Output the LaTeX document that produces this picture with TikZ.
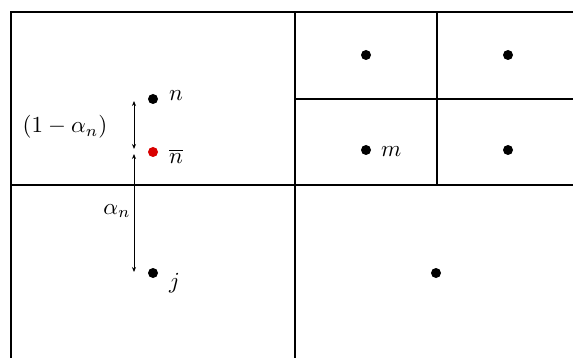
\documentclass[tikz,border=0pt]{standalone}
\usepackage{graphicx}
\usetikzlibrary{arrows.meta}
\newcommand{\biglab}[1]{\scalebox{2.3}{#1}}
\begin{document}
\begin{tikzpicture}[x=1pt,y=-1pt,
  frame/.style={line width=2pt},
  dot/.style={circle,fill=black,inner sep=0pt,minimum size=10pt},
  reddot/.style={circle,fill=red!85!black,inner sep=0pt,minimum size=10pt},
  lab/.style={inner sep=1pt},
  dim/.style={line width=0.9pt,{Stealth[length=5pt,width=4pt]}-{Stealth[length=5pt,width=4pt]}}]
\useasboundingbox (0,0) rectangle (573,358);
\fill[white] (0,0) rectangle (573,358);
% frame
\draw[frame] (11,362) -- (11,12) -- (577,12);
\draw[frame] (295,12) -- (295,362);
\draw[frame] (11,185) -- (577,185);
\draw[frame] (295,99) -- (577,99);
\draw[frame] (437,12) -- (437,185);
% dots
\node[dot] (a1) at (366,55) {};
\node[dot] (a2) at (508,55) {};
\node[dot] (m) at (366,150) {};
\node[dot] (a4) at (508,150) {};
\node[dot] (b) at (436,273) {};
\node[dot] (n) at (153,99) {};
\node[reddot] (nb) at (153,152) {};
\node[dot] (j) at (153,273) {};
% labels
\node[lab,anchor=west] (ml) at (380,152) {\biglab{$m$}};
\node[lab,anchor=west] (nl) at (168,96) {\biglab{$n$}};
\node[lab,anchor=west] (nbl) at (168,156) {\biglab{$\overline{n}$}};
\node[lab,anchor=west] (jl) at (168,283) {\biglab{$j$}};
\node[lab] (oma) at (65,127) {\biglab{$(1-\alpha_n)$}};
\node[lab] (al) at (117,211) {\biglab{$\alpha_n$}};
% arrows
\coordinate (t1) at (134,101);
\coordinate (t2) at (134,149);
\coordinate (t3) at (134,154);
\coordinate (t4) at (134,272);
\draw[dim] (t1) -- (t2);
\draw[dim] (t3) -- (t4);
\end{tikzpicture}
\end{document}
